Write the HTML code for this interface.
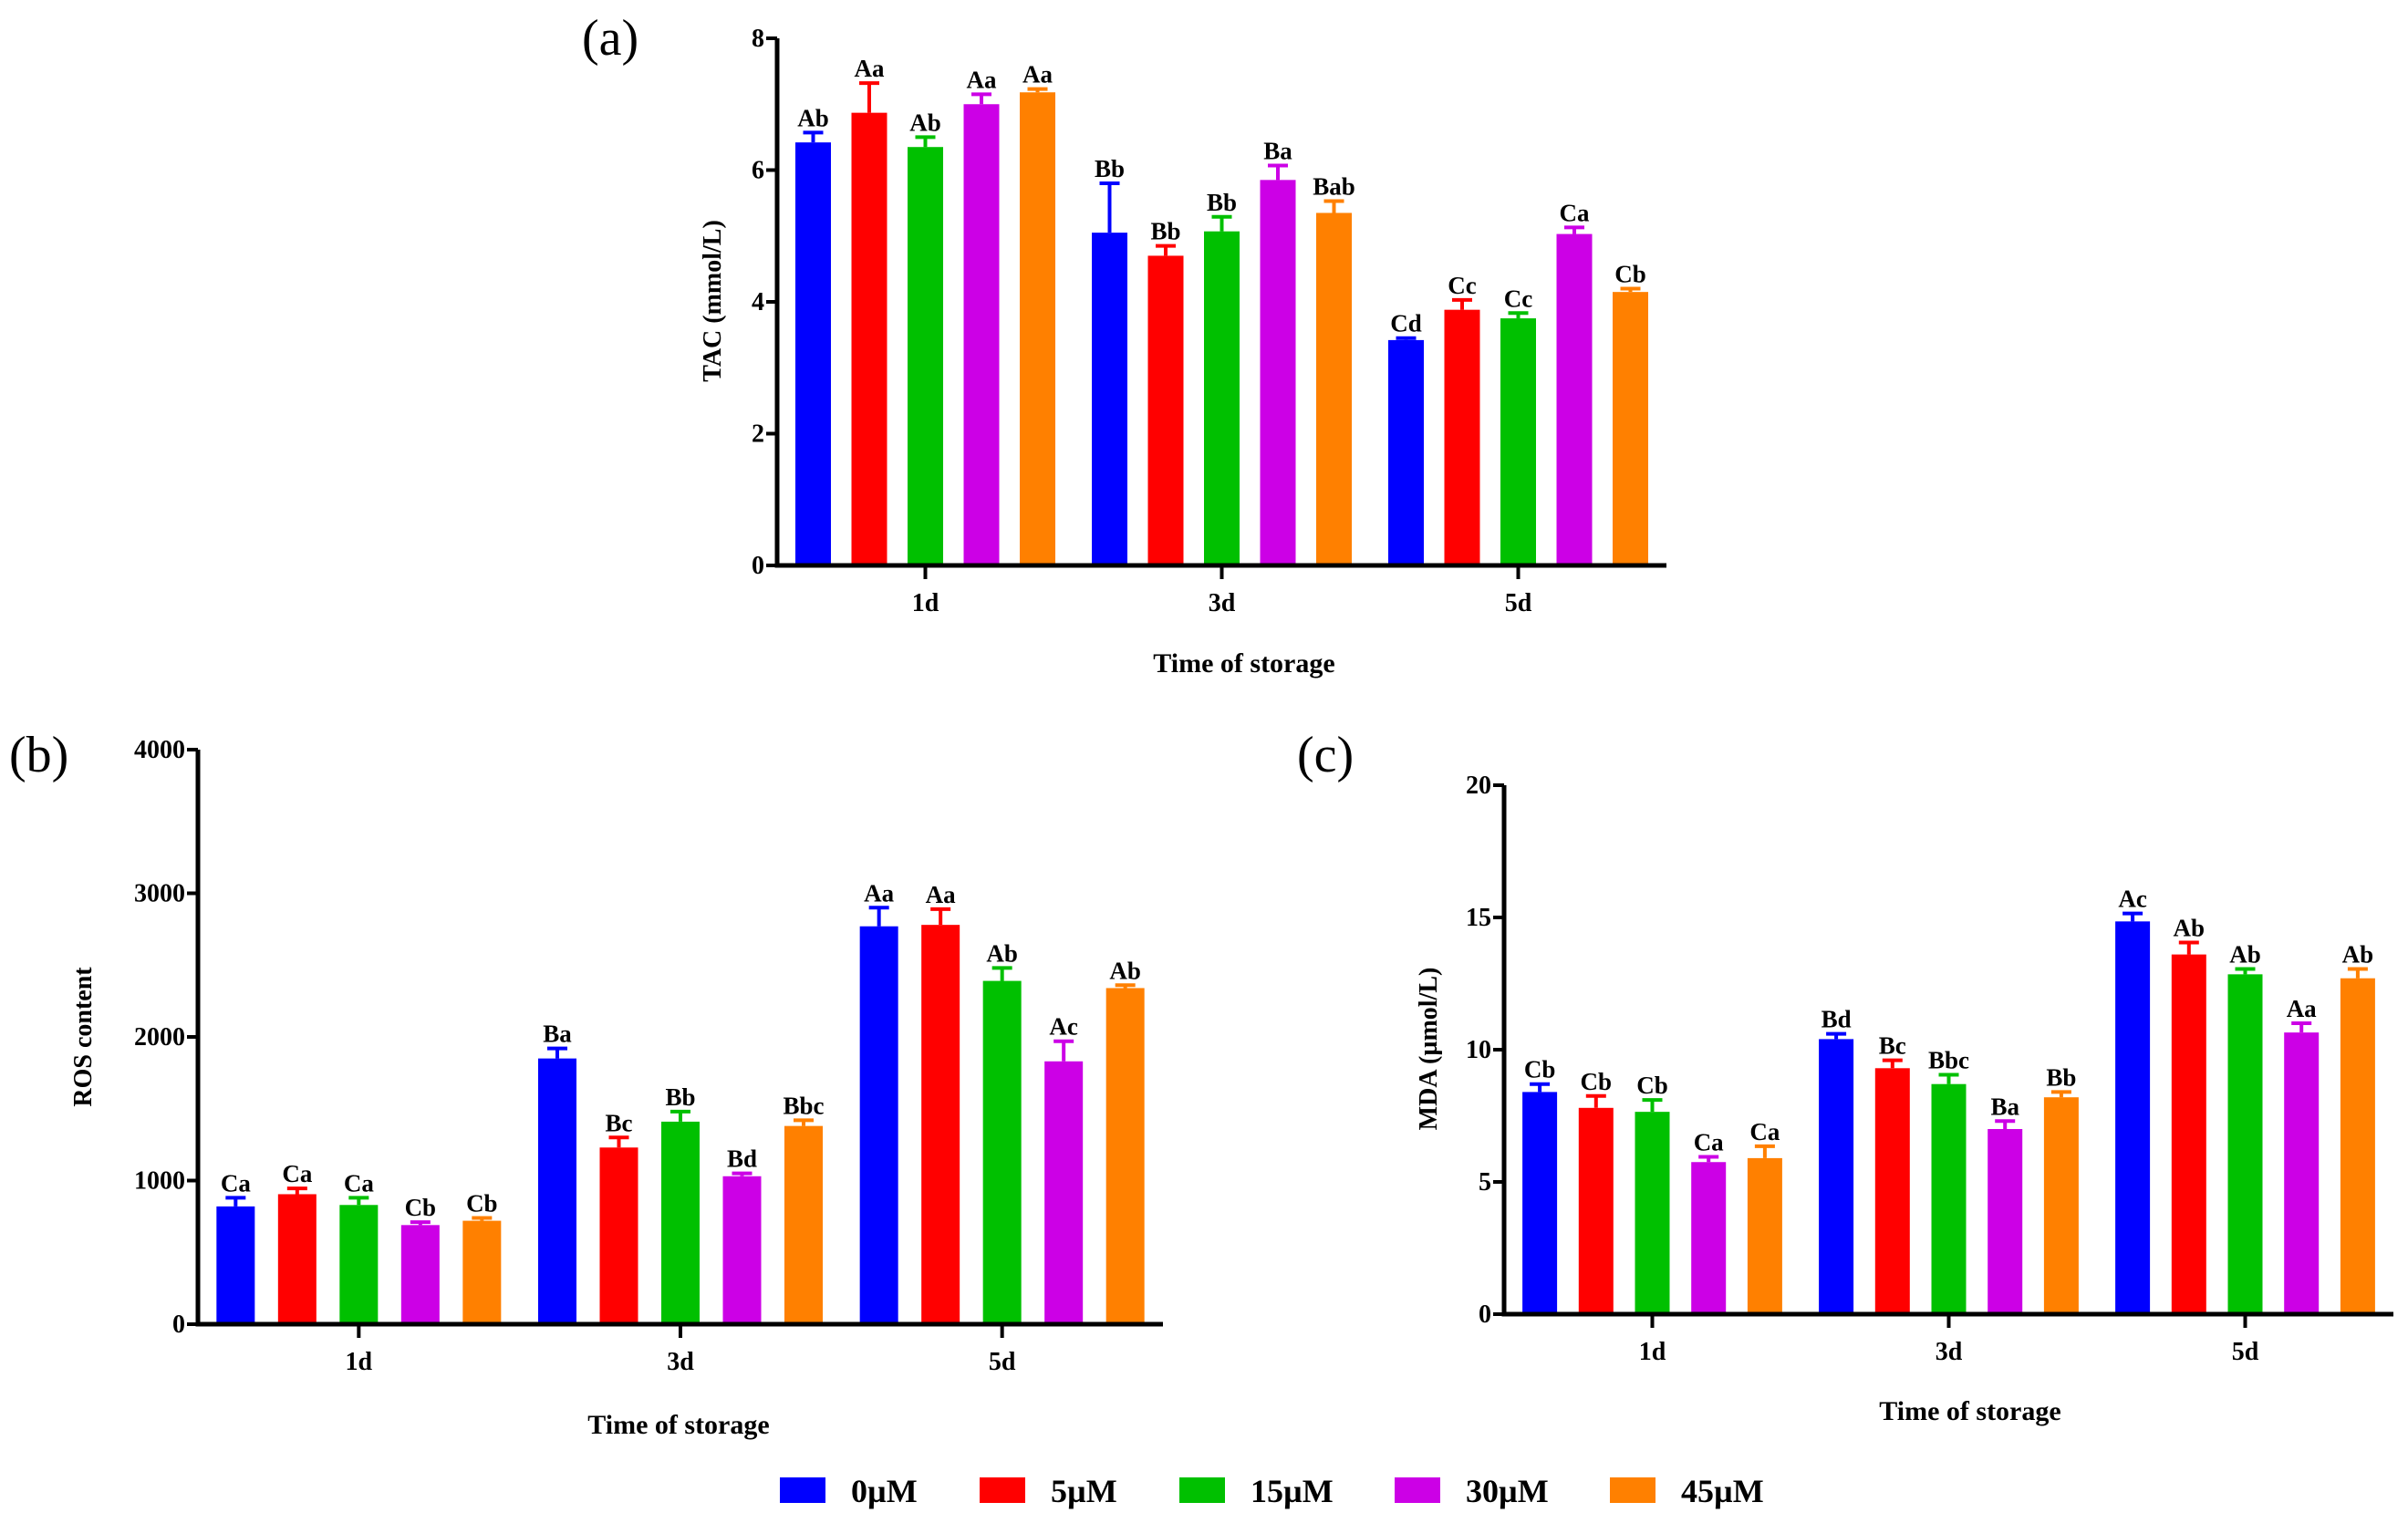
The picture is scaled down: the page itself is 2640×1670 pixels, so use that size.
<!DOCTYPE html>
<html><head><meta charset="utf-8">
<style>
html,body{margin:0;padding:0;background:#fff;}
svg{display:block;font-family:"Liberation Serif",serif;}
</style></head>
<body>
<svg id="fig" width="2640" height="1670" viewBox="0 0 2640 1670" xmlns="http://www.w3.org/2000/svg">
<rect width="2640" height="1670" fill="#fff"/>
</svg>
<script>
const seriesNames = ["0µM","5µM","15µM","30µM","45µM"];
const colors = ["#0000ff","#ff0000","#00c000","#cc00e6","#ff8000"];
const categories = ["1d","3d","5d"];

const tacValues = [[6.42,6.87,6.35,7.0,7.18],[5.05,4.7,5.07,5.85,5.35],[3.42,3.88,3.75,5.03,4.15]];
const tacErrors = [[0.15,0.45,0.15,0.15,0.05],[0.75,0.15,0.22,0.22,0.18],[0.03,0.15,0.08,0.1,0.05]];
const tacLetters = [["Ab","Aa","Ab","Aa","Aa"],["Bb","Bb","Bb","Ba","Bab"],["Cd","Cc","Cc","Ca","Cb"]];
const tacTicks = [0,2,4,6,8];

const rosValues = [[820,905,830,690,720],[1850,1230,1410,1030,1380],[2770,2780,2390,1830,2340]];
const rosErrors = [[60,40,50,20,20],[70,70,70,20,40],[130,110,90,140,20]];
const rosLetters = [["Ca","Ca","Ca","Cb","Cb"],["Ba","Bc","Bb","Bd","Bbc"],["Aa","Aa","Ab","Ac","Ab"]];
const rosTicks = [0,1000,2000,3000,4000];

const mdaValues = [[8.4,7.8,7.65,5.75,5.9],[10.4,9.3,8.7,7.0,8.2],[14.85,13.6,12.85,10.65,12.7]];
const mdaErrors = [[0.3,0.45,0.45,0.2,0.45],[0.2,0.3,0.35,0.3,0.2],[0.3,0.45,0.2,0.35,0.35]];
const mdaLetters = [["Cb","Cb","Cb","Ca","Ca"],["Bd","Bc","Bbc","Ba","Bb"],["Ac","Ab","Ab","Aa","Ab"]];
const mdaTicks = [0,5,10,15,20];

const NS="http://www.w3.org/2000/svg";
const svg=document.getElementById("fig");
function mk(tag,attrs,parent,text){
  const e=document.createElementNS(NS,tag);
  for(const k in attrs)e.setAttribute(k,attrs[k]);
  if(text!==undefined)e.textContent=text;
  (parent||svg).appendChild(e);return e;
}

function panel(cfg){
  const g=mk("g",{});
  
  
  const x0=cfg.x0,x1=cfg.x1,yTop=cfg.yTop,yZero=cfg.yZero,ymax=cfg.ticks[cfg.ticks.length-1];
  const yS=v=>yZero-(v/ymax)*(yZero-yTop);
  const gw=(x1-x0)/categories.length;
  const cx=i=>x0+gw*(i+0.5);
  // bars
  cfg.values.forEach((row,gi)=>{
    row.forEach((v,si)=>{
      const bx=cx(gi)+(si-2)*cfg.pitch-cfg.bw/2;
      const r=mk("rect",{x:bx,y:yS(v),width:cfg.bw,height:yZero-yS(v),fill:colors[si]},g);
      
      
      const top=yS(v+cfg.errors[gi][si]);
      const bc=bx+cfg.bw/2;
      const eb=mk("path",{d:`M${bc},${yS(v)}V${top}M${bc-11},${top}H${bc+11}`,stroke:colors[si],"stroke-width":4,fill:"none"},g);
      
      
      const t=mk("text",{x:bc,y:top-7,"text-anchor":"middle","font-size":27,"font-weight":"bold"},g,cfg.letters[gi][si]);
      
      
    });
  });
  // axes
  const ax=mk("path",{d:`M${x0},${yTop}V${yZero}H${x1}`,stroke:"#000","stroke-width":5,fill:"none"},g);
  
  
  cfg.ticks.forEach(t=>{
    const y=yS(t);
    mk("line",{x1:x0-12,x2:x0,y1:y,y2:y,stroke:"#000","stroke-width":4},g);
    const tl=mk("text",{x:x0-14,y:y+9,"text-anchor":"end","font-size":28,"font-weight":"bold"},g,String(t));
    
    
  });
  categories.forEach((c,i)=>{
    mk("line",{x1:cx(i),x2:cx(i),y1:yZero,y2:yZero+15,stroke:"#000","stroke-width":4},g);
    const tl=mk("text",{x:cx(i),y:yZero+50,"text-anchor":"middle","font-size":28,"font-weight":"bold"},g,c);
    
    
  });
  const xt=mk("text",{x:cfg.xtX,y:cfg.xtY,"text-anchor":"middle","font-size":30,"font-weight":"bold"},g,"Time of storage");
  
  
  const yt=mk("text",{x:0,y:0,"text-anchor":"middle","font-size":28,"font-weight":"bold",transform:`translate(${cfg.ytX},${cfg.ytY}) rotate(-90)`},g,cfg.ytitle);
  
  
  const pl=mk("text",{x:cfg.plX,y:cfg.plY,"font-size":56},g,cfg.plabel);
  
  
}

panel({name:"panel-a-tac",x0:852,x1:1827,yTop:42,yZero:620,ticks:tacTicks,values:tacValues,errors:tacErrors,letters:tacLetters,
  bw:39,pitch:61.5,xtX:1364,xtY:737,ytX:790,ytY:330,ytitle:"TAC (mmol/L)",plX:638,plY:60,plabel:"(a)"});
panel({name:"panel-b-ros",x0:217,x1:1275,yTop:822,yZero:1452,ticks:rosTicks,values:rosValues,errors:rosErrors,letters:rosLetters,
  bw:42,pitch:67.5,xtX:744,xtY:1572,ytX:100,ytY:1137,ytitle:"ROS content",plX:10,plY:846,plabel:"(b)"});
panel({name:"panel-c-mda",x0:1649,x1:2624,yTop:861,yZero:1441,ticks:mdaTicks,values:mdaValues,errors:mdaErrors,letters:mdaLetters,
  bw:38,pitch:61.7,xtX:2160,xtY:1557,ytX:1575,ytY:1150,ytitle:"MDA (µmol/L)",plX:1422,plY:846,plabel:"(c)"});

// legend
const legSq=[855,1074,1293,1529,1765];
const lg=mk("g",{});


seriesNames.forEach((n,i)=>{
  const r=mk("rect",{x:legSq[i],y:1620,width:50,height:28,fill:colors[i]},lg);
  
  
  const t=mk("text",{x:legSq[i]+78,y:1647,"font-size":36,"font-weight":"bold"},lg,n);
  
  
});
</script>
</body></html>
